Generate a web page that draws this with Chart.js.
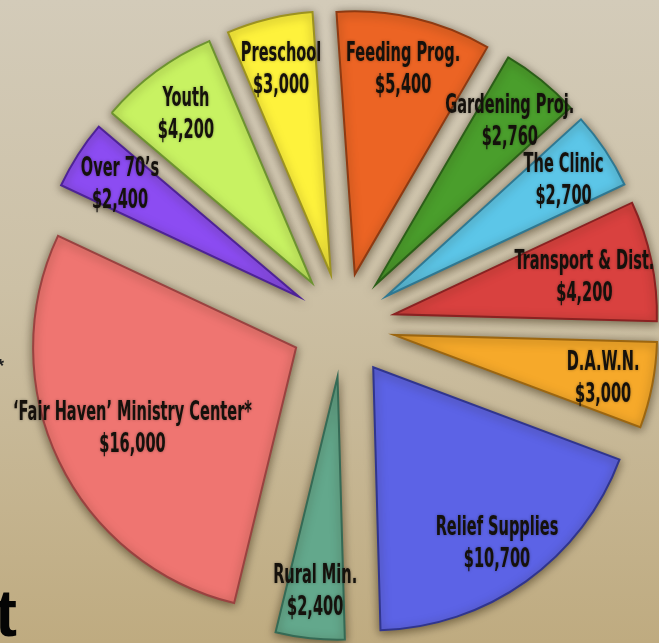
<!DOCTYPE html>
<html><head><meta charset="utf-8">
<script src="https://cdn.jsdelivr.net/npm/chart.js@4.4.0/dist/chart.umd.min.js"></script>
<style>
html,body{margin:0;padding:0;width:659px;height:643px;overflow:hidden;}
body{position:relative;background:linear-gradient(180deg,#d3cbb9 0%,#ccc0a5 45%,#bfab80 100%);}
#wrap{position:absolute;left:0;top:0;width:686px;height:650px;}
.big{position:absolute;left:-5px;top:575px;font:bold 66px 'Liberation Sans',sans-serif;color:#050505;}
.star{position:absolute;left:-3px;top:356px;font:bold 18px 'Liberation Sans',sans-serif;color:#222;}
</style></head><body>
<div id="wrap"><canvas id="c"></canvas></div>
<div class="big">t</div>
<div class="star">*</div>
<script>
const categories = ['Feeding Prog.', 'Gardening Proj.', 'The Clinic', 'Transport & Dist.', 'D.A.W.N.', 'Relief Supplies', 'Rural Min.', '\u2018Fair Haven\u2019 Ministry Center*', 'Over 70\u2019s', 'Youth', 'Preschool'];
const amounts = [5400, 2760, 2700, 4200, 3000, 10700, 2400, 16000, 2400, 4200, 3000];
const amountLabels = amounts.map(v => '$' + String(v).replace(/\B(?=(\d{3})+(?!\d))/g, ','));

const fills = ['#ec6424','#4a9e2c','#5cc6e8','#d9413f','#f6a92a','#5c63e6','#63a88c','#ef7571','#8c4cf2','#c8f262','#fef23c'];
const borders = ['#8e3a12','#2b5f18','#2f7892','#8a2222','#9c6610','#30358e','#356a55','#9a4240','#4e2396','#6d9330','#9c9220'];

// label placement (fraction of radius along each slice's bisector)
const LABEL_RADIUS = 0.81;
const LABEL_RADIUS_OVERRIDE = { 3: 0.74, 7: 0.69 };
const LABEL_FONT = "bold 27px 'Liberation Sans Narrow', 'DejaVu Sans Condensed', sans-serif";
const LABEL_SQUEEZE = 0.6;
const LABEL_LINE = 32;
const LABEL_DY = 3;
const EXPLODE = 52;

const explode = {
  id: 'explode',
  beforeDatasetsDraw(chart) {
    const ca = chart.chartArea;
    const cx = (ca.left + ca.right) / 2, cy = (ca.top + ca.bottom) / 2;
    chart.getDatasetMeta(0).data.forEach(arc => {
      const mid = (arc.startAngle + arc.endAngle) / 2;
      arc.x = cx + EXPLODE * Math.cos(mid);
      arc.y = cy + EXPLODE * Math.sin(mid);
    });
    const c = chart.ctx;
    c.save();
    c.shadowColor = 'rgba(40,30,10,0.55)';
    c.shadowBlur = 10;
    c.shadowOffsetY = 2;
  },
  afterDatasetsDraw(chart) { chart.ctx.restore(); }
};

const sliceLabels = {
  id: 'sliceLabels',
  afterDatasetsDraw(chart) {
    const ctx = chart.ctx;
    chart.getDatasetMeta(0).data.forEach((arc, i) => {
      const mid = (arc.startAngle + arc.endAngle) / 2;
      const f = (LABEL_RADIUS_OVERRIDE[i] !== undefined) ? LABEL_RADIUS_OVERRIDE[i] : LABEL_RADIUS;
      const r = arc.outerRadius * f;
      const x = arc.x + r * Math.cos(mid), y = arc.y + r * Math.sin(mid) + LABEL_DY;
      const lines = [categories[i], amountLabels[i]];
      ctx.save();
      ctx.font = LABEL_FONT;
      ctx.fillStyle = '#15110c';
      ctx.textAlign = 'center';
      ctx.textBaseline = 'middle';
      ctx.shadowColor = 'rgba(0,0,0,0.35)';
      ctx.shadowBlur = 3;
      lines.forEach((t, k) => {
        ctx.save();
        ctx.translate(x, y + (k - 0.5) * LABEL_LINE);
        ctx.scale(LABEL_SQUEEZE, 1);
        ctx.fillText(t, 0, 0);
        ctx.restore();
      });
      ctx.restore();
    });
  }
};

new Chart(document.getElementById('c'), {
  type: 'pie',
  data: {
    labels: categories,
    datasets: [{
      data: amounts,
      backgroundColor: fills,
      borderColor: borders,
      borderWidth: 2,
      borderJoinStyle: 'miter'
    }]
  },
  options: {
    responsive: true,
    maintainAspectRatio: false,
    animation: false,
    rotation: -4,
    radius: 263,
    layout: { padding: 0 },
    events: [],
    plugins: {
      legend: { display: false },
      tooltip: { enabled: false }
    }
  },
  plugins: [explode, sliceLabels]
});
</script>
</body></html>
